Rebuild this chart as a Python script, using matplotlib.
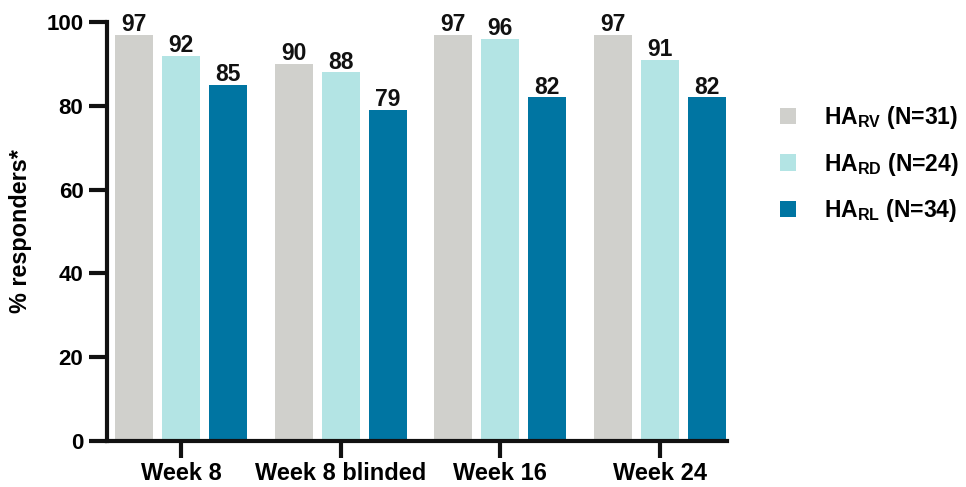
import matplotlib
matplotlib.use("Agg")
import matplotlib.pyplot as plt
import numpy as np
from matplotlib.patches import Patch

plt.rcParams['font.family'] = ['Liberation Sans', 'DejaVu Sans']
plt.rcParams['font.weight'] = 'bold'
plt.rcParams['mathtext.fontset'] = 'custom'
plt.rcParams['mathtext.rm'] = 'Liberation Sans:bold'
plt.rcParams['mathtext.bf'] = 'Liberation Sans:bold'

categories = ["Week 8", "Week 8 blinded", "Week 16", "Week 24"]
series_names = [r"HA$_{\mathrm{RV}}$ (N=31)", r"HA$_{\mathrm{RD}}$ (N=24)", r"HA$_{\mathrm{RL}}$ (N=34)"]
ha_rv = [97, 90, 97, 97]
ha_rd = [92, 88, 96, 91]
ha_rl = [85, 79, 82, 82]
colors = ["#D0D0CC", "#B3E4E4", "#0075A2"]
yticks = [0, 20, 40, 60, 80, 100]

fig = plt.figure(figsize=(9.66, 4.87), dpi=100)
ax = fig.add_axes([0.1108, 0.0945, 0.7526 - 0.1108, 0.9548 - 0.0945])

x = np.arange(len(categories))
width = 0.238
pitch = 0.295
for i, (vals, c) in enumerate(zip([ha_rv, ha_rd, ha_rl], colors)):
    pos = x + (i - 1) * pitch
    bars = ax.bar(pos, vals, width=width, color=c, label=series_names[i], zorder=2)
    for b, v in zip(bars, vals):
        ax.text(b.get_x() + b.get_width() / 2, v - 0.3, f"{v}", ha='center', va='bottom',
                fontsize=16.5, fontweight='bold', color='#111111')

ax.set_xlim(-0.464, 3.42)
ax.set_ylim(0, 100)
ax.set_yticks(yticks)
ax.set_xticks(x)
ax.set_xticklabels(categories)
ax.set_ylabel("% responders*", fontsize=16.8, fontweight='bold', labelpad=10)

for s in ['top', 'right']:
    ax.spines[s].set_visible(False)
for s in ['left', 'bottom']:
    ax.spines[s].set_linewidth(3)
    ax.spines[s].set_color('#111111')
ax.tick_params(axis='y', width=3, length=13, color='#111111', labelsize=16, pad=4)
ax.tick_params(axis='x', width=3, length=12, color='#111111', labelsize=17, pad=3)
for lab in ax.get_xticklabels() + ax.get_yticklabels():
    lab.set_fontweight('bold')

handles = [Patch(facecolor=c, edgecolor='none') for c in colors]
fig.legend(handles, series_names, loc='center left', bbox_to_anchor=(0.788, 0.663),
           frameon=False, fontsize=16.5, handlelength=0.72, handleheight=0.72,
           handletextpad=1.2, labelspacing=0.85, borderpad=0.3)

fig.savefig("out.png", dpi=100)
